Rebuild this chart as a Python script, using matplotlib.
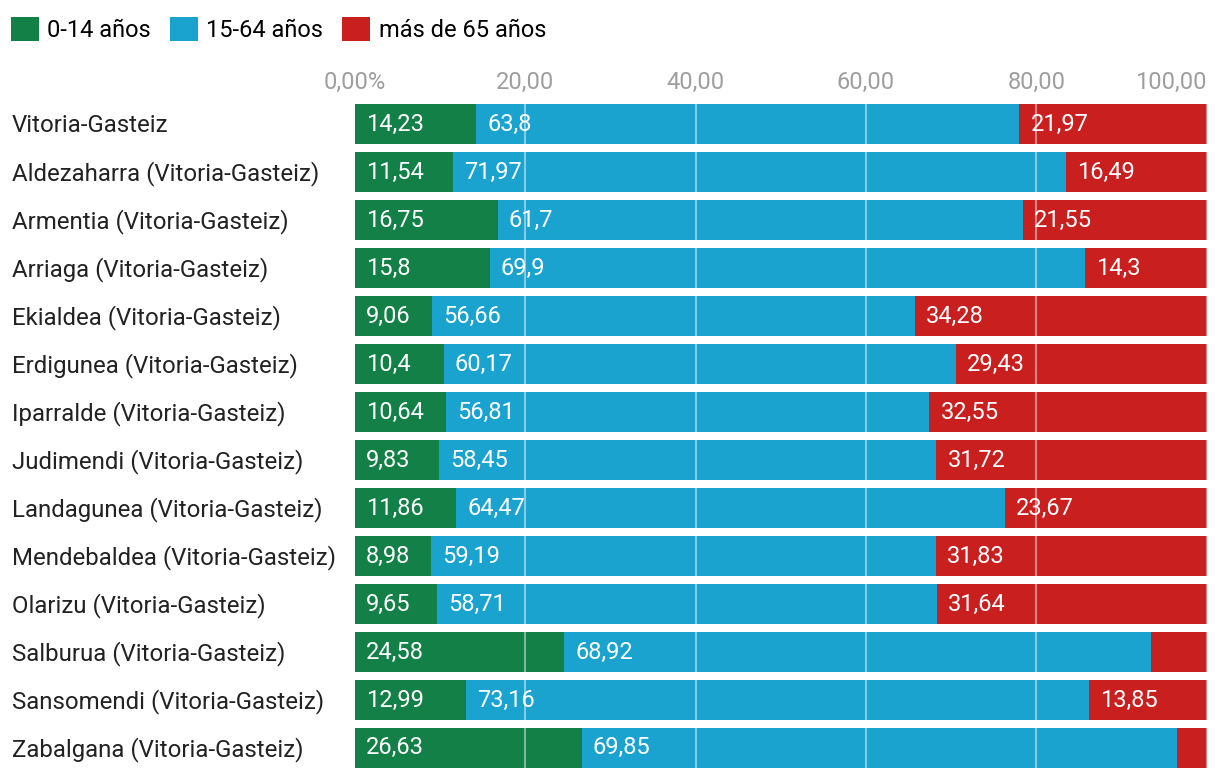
import matplotlib.pyplot as plt
import matplotlib.transforms as mtransforms
import numpy as np

plt.rcParams['font.family'] = ['Roboto', 'DejaVu Sans']

barrios = ['Vitoria-Gasteiz', 'Aldezaharra (Vitoria-Gasteiz)', 'Armentia (Vitoria-Gasteiz)',
           'Arriaga (Vitoria-Gasteiz)', 'Ekialdea (Vitoria-Gasteiz)', 'Erdigunea (Vitoria-Gasteiz)',
           'Iparralde (Vitoria-Gasteiz)', 'Judimendi (Vitoria-Gasteiz)', 'Landagunea (Vitoria-Gasteiz)',
           'Mendebaldea (Vitoria-Gasteiz)', 'Olarizu (Vitoria-Gasteiz)', 'Salburua (Vitoria-Gasteiz)',
           'Sansomendi (Vitoria-Gasteiz)', 'Zabalgana (Vitoria-Gasteiz)']
jovenes = [14.23, 11.54, 16.75, 15.8, 9.06, 10.4, 10.64, 9.83, 11.86, 8.98, 9.65, 24.58, 12.99, 26.63]
adultos = [63.8, 71.97, 61.7, 69.9, 56.66, 60.17, 56.81, 58.45, 64.47, 59.19, 58.71, 68.92, 73.16, 69.85]
mayores = [21.97, 16.49, 21.55, 14.3, 34.28, 29.43, 32.55, 31.72, 23.67, 31.83, 31.64, 6.5, 13.85, 3.52]
series = ['0-14 años', '15-64 años', 'más de 65 años']
colores = ['#128047', '#1ba3d0', '#c91f1f']
ticks = [0, 20, 40, 60, 80, 100]
tick_labels = ['0,00%', '20,00', '40,00', '60,00', '80,00', '100,00']

fig = plt.figure(figsize=(12.2, 7.8), dpi=100)
ax = fig.add_axes([0.291, 0.0103, 0.698, 0.8615])

y = np.arange(len(barrios))
left = np.zeros(len(barrios))
for vals, color, name in zip([jovenes, adultos, mayores], colores, series):
    vals = np.array(vals)
    ax.barh(y, vals, left=left, height=0.833, color=color, label=name, zorder=1)
    for yi, l, v in zip(y, left, vals):
        if v > 7:
            txt = f'{v:g}'.replace('.', ',')
            ax.text(l + 1.3, yi, txt, color='white', fontsize=17, va='center', ha='left', zorder=3)
    left += vals

for t in ticks[1:]:
    ax.axvline(t, color='white', alpha=0.45, lw=1.5, zorder=2)

ax.set_xlim(0, 100)
ax.set_ylim(len(barrios) - 0.5, -0.5)
ax.xaxis.tick_top()
ax.set_xticks(ticks)
ax.set_xticklabels(tick_labels, color='#9e9e9e', fontsize=17)
ax.tick_params(axis='x', length=0, pad=4)
ax.set_yticks([])

# nombres de barrio alineados a la izquierda
trans = mtransforms.blended_transform_factory(fig.transFigure, ax.transData)
for yi, nombre in zip(y, barrios):
    ax.text(12 / 1220, yi + 0.03, nombre, transform=trans, fontsize=17.3, color='#222222',
            ha='left', va='center')

for s in ax.spines.values():
    s.set_visible(False)

fig.legend(loc='upper left', bbox_to_anchor=(0.0, 0.992), ncol=3, frameon=False, fontsize=17,
           handlelength=1.2, handleheight=1.2, handletextpad=0.35, columnspacing=0.8,
           borderaxespad=0.2, borderpad=0.25)

fig.canvas.draw()
ultimo = ax.get_xticklabels()[-1]
ultimo.set_ha('right')
ultimo.set_x(100.3)

fig.savefig('out.png', dpi=100)
